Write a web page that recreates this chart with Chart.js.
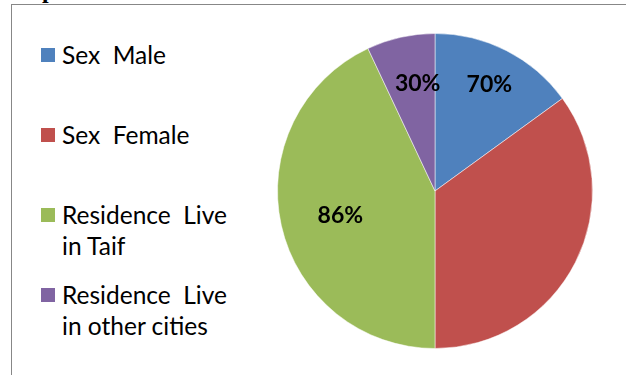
<!DOCTYPE html>
<html>
<head>
<meta charset="utf-8">
<script src="https://cdn.jsdelivr.net/npm/chart.js@4.4.1/dist/chart.umd.min.js"></script>
<style>
  html, body { margin: 0; padding: 0; background: #fff; }
  #wrap { position: relative; width: 626px; height: 375px; overflow: hidden; }
  #frame {
    position: absolute; left: 10.5px; top: 4px; right: -10px; bottom: -10px;
    border-top: 1.5px solid #878787; border-left: 1.5px solid #878787;
  }
  #heading {
    position: absolute; left: 42px; top: -22px;
    font: bold 24px 'Liberation Serif'; line-height: 24px; color: #000;
  }
  #legend { position: absolute; left: 41px; top: 0; font-family: Lato, sans-serif; font-size: 24.5px; color: #000; }
  .item { position: absolute; left: 0; display: flex; align-items: flex-start; }
  .swatch { width: 14px; height: 14px; margin-top: 9px; margin-right: 7px; flex: none; }
  .text { white-space: pre; line-height: 31px; }
  canvas { position: absolute; left: 0; top: 0; }
</style>
</head>
<body>
<div id="wrap">
  <div id="heading">p</div>
  <div id="frame"></div>
  <div id="legend"></div>
  <canvas id="pieChart" width="626" height="375"></canvas>
</div>
<script>
// slice values, legend names and the printed percentages
const categories = ['Sex  Male', 'Sex  Female', 'Residence  Live\nin Taif', 'Residence  Live\nin other cities'];
const values = [30, 70, 86, 14];
const labelTexts = ['70%', '', '86%', '30%'];
const colors = ['#4F81BD', '#C0504D', '#9BBB59', '#8064A2'];

// where each label sits: fraction of the radius, and a small turn (radians) off the slice middle
const labelRadius = [0.76, 0.6, 0.62, 0.69];
const labelTurn = [0, 0, -0.03, 0.06];

// legend on the left, one entry every 80px
const legend = document.getElementById('legend');
categories.forEach(function(name, i) {
    const item = document.createElement('div');
    item.className = 'item';
    item.style.top = (38.5 + 80 * i) + 'px';
    const sw = document.createElement('div');
    sw.className = 'swatch';
    sw.style.background = colors[i];
    const txt = document.createElement('div');
    txt.className = 'text';
    txt.textContent = name;
    item.appendChild(sw);
    item.appendChild(txt);
    legend.appendChild(item);
});

const sliceLabels = {
    id: 'sliceLabels',
    afterDatasetsDraw(chart) {
        const ctx = chart.ctx;
        const arcs = chart.getDatasetMeta(0).data;
        ctx.save();
        ctx.font = 'bold 23px Lato, sans-serif';
        ctx.fillStyle = '#000';
        ctx.textAlign = 'center';
        ctx.textBaseline = 'middle';
        arcs.forEach(function(arc, i) {
            if (!labelTexts[i]) return;
            const mid = (arc.startAngle + arc.endAngle) / 2 + labelTurn[i];
            const r = arc.outerRadius * labelRadius[i];
            ctx.fillText(labelTexts[i], arc.x + Math.cos(mid) * r, arc.y + Math.sin(mid) * r);
        });
        ctx.restore();
    }
};

const ctx = document.getElementById('pieChart').getContext('2d');
new Chart(ctx, {
    type: 'pie',
    data: {
        labels: categories,
        datasets: [{
            data: values,
            backgroundColor: colors,
            borderColor: 'rgba(255,255,255,0.5)',
            borderWidth: 1
        }]
    },
    options: {
        responsive: false,
        animation: false,
        events: [],
        layout: { padding: { left: 277, right: 33, top: 33, bottom: 26 } },
        plugins: {
            legend: { display: false },
            tooltip: { enabled: false }
        }
    },
    plugins: [sliceLabels]
});
</script>
</body>
</html>
